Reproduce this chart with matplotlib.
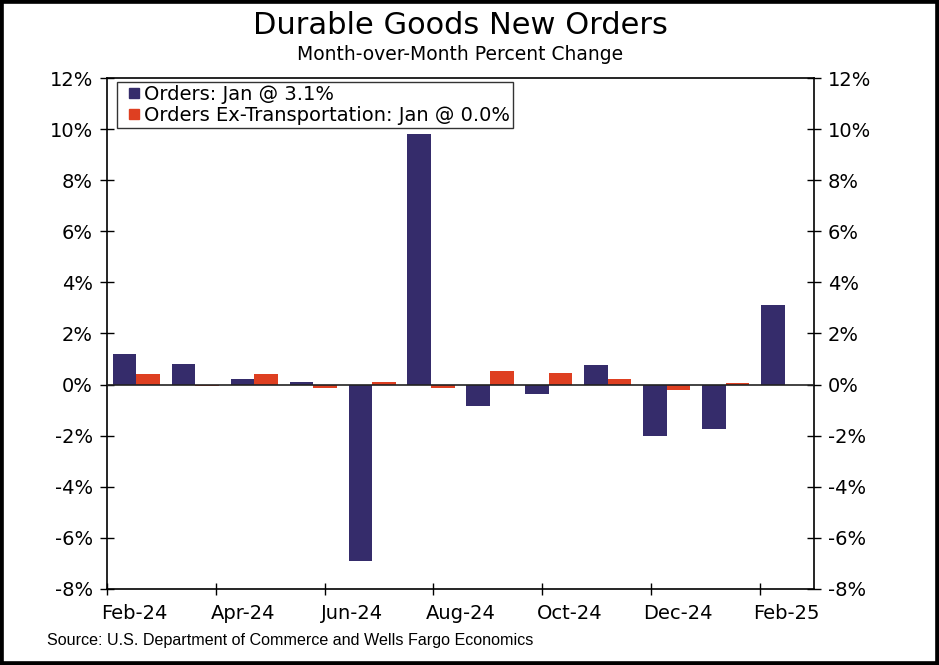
import matplotlib
matplotlib.use("Agg")
import matplotlib.pyplot as plt
import numpy as np
from matplotlib.patches import Rectangle
from matplotlib.lines import Line2D
from matplotlib.ticker import FixedLocator, FuncFormatter

# ---- data ----
months = ["Feb-24", "Mar-24", "Apr-24", "May-24", "Jun-24", "Jul-24",
          "Aug-24", "Sep-24", "Oct-24", "Nov-24", "Dec-24", "Jan-25"]
orders = [1.2, 0.8, 0.2, 0.1, -6.9, 9.8, -0.85, -0.35, 0.75, -2.0, -1.75, 3.1]
orders_ex_transport = [0.4, -0.05, 0.4, -0.15, 0.1, -0.15, 0.55, 0.45, 0.2, -0.2, 0.05, 0.0]
date_tick_labels = ["Feb-24", "Apr-24", "Jun-24", "Aug-24", "Oct-24", "Dec-24", "Feb-25"]
y_ticks = [-8, -6, -4, -2, 0, 2, 4, 6, 8, 10, 12]
series_labels = ["Orders: Jan @ 3.1%", "Orders Ex-Transportation: Jan @ 0.0%"]

NAVY = "#352C6B"
RED = "#DE3F21"

plt.rcParams['font.family'] = ['DejaVu Sans']

fig = plt.figure(figsize=(9.39, 6.65), dpi=100)
ax = fig.add_axes([107/939, 1 - 589/665, (814-107)/939, (589-78)/665])

n = len(months)
x = np.arange(n)
w = 0.4
ax.bar(x - w/2, orders, width=w, color=NAVY, zorder=2)
ax.bar(x + w/2, orders_ex_transport, width=w, color=RED, zorder=2)
ax.axhline(0, color="#222222", lw=1.2, zorder=3)

ax.set_xlim(-0.5, n - 0.5)
ax.set_ylim(-8, 12)

# date axis spans 13 months (Feb-24 .. Feb-25) across the same width
n_date = n + 1
step = n / n_date
major_pos = [-0.5 + k * step for k in range(0, n_date, 2)]
label_pos = [-0.5 + (k + 0.5) * step for k in range(0, n_date, 2)]
ax.xaxis.set_major_locator(FixedLocator(major_pos))
ax.xaxis.set_major_formatter(FuncFormatter(lambda v, p: ""))
ax.xaxis.set_minor_locator(FixedLocator(label_pos))
ax.set_xticklabels(date_tick_labels, minor=True)
ax.tick_params(axis="x", which="major", direction="inout", length=9, width=1)
ax.tick_params(axis="x", which="minor", length=0, pad=11, labelsize=14)

ax.set_yticks(y_ticks)
ax.yaxis.set_major_formatter(FuncFormatter(lambda v, p: f"{v:.0f}%"))
ax.tick_params(axis="y", which="major", direction="inout", length=10, width=1,
               labelsize=14, left=True, right=True, labelleft=True,
               labelright=True, pad=5)

for s in ax.spines.values():
    s.set_linewidth(1.2)
    s.set_color("black")

handles = [Line2D([], [], ls="none", marker="s", markersize=6.5,
                  markerfacecolor=c, markeredgecolor=c) for c in (NAVY, RED)]
leg = ax.legend(handles, series_labels, loc="upper left",
                bbox_to_anchor=(0.014, 0.992), fontsize=14,
                frameon=True, fancybox=False, edgecolor="black",
                handlelength=1.5, handletextpad=-0.25,
                borderpad=0.15, labelspacing=0.1, borderaxespad=0)
leg.get_frame().set_linewidth(1.0)

axc = (107 + 814) / 2 / 939
fig.text(axc, 1 - 25/665, "Durable Goods New Orders", ha="center", va="center",
         fontsize=22)
fig.text(axc, 1 - 55/665, "Month-over-Month Percent Change", ha="center",
         va="center", fontsize=13.5)
fig.text(47/939, 1 - 640/665,
         "Source: U.S. Department of Commerce and Wells Fargo Economics",
         ha="left", va="center", fontsize=11.6, family=["Liberation Sans"])

fig.patches.append(Rectangle((0, 0), 1, 1, transform=fig.transFigure,
                             fill=False, edgecolor="black", linewidth=5.5,
                             zorder=10))

fig.savefig("out.png", dpi=100)
